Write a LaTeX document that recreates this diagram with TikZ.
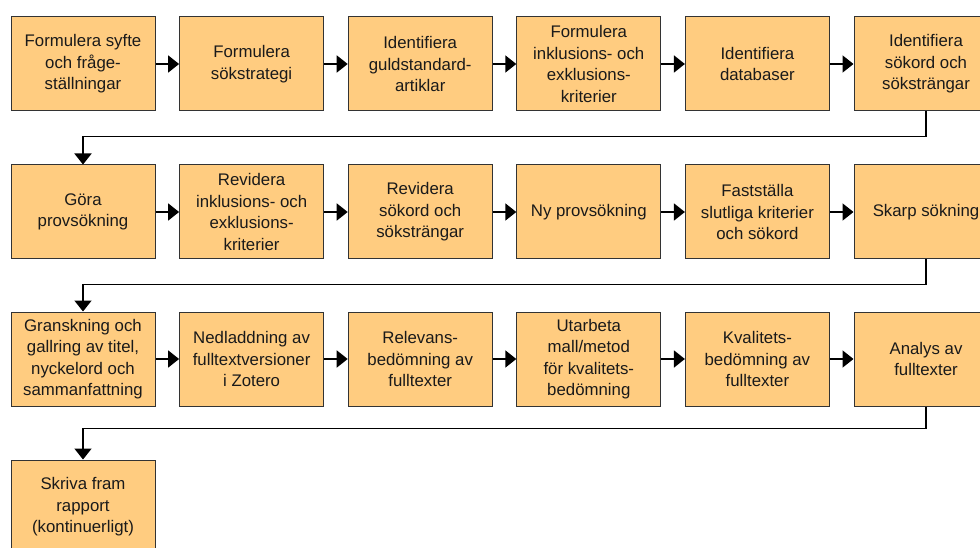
\documentclass[tikz,border=0pt]{standalone}
\usepackage{fontspec}
\setmainfont{Liberation Sans}
\usetikzlibrary{positioning,arrows.meta}

\definecolor{boxfill}{HTML}{FFCC80}
\definecolor{boxline}{HTML}{333333}
\definecolor{boxtext}{HTML}{1A1A1A}

\tikzset{
  stepbox/.style={draw=boxline, line width=1pt, fill=boxfill,
    minimum width=144pt, minimum height=94pt, inner sep=2pt,
    align=center, text=boxtext,
    font=\fontsize{16.8}{21.5}\selectfont},
  flow/.style={draw=black, line width=1.8pt,
    -{Triangle[length=11pt,width=17pt]}},
  turn/.style={draw=black, line width=1.8pt,
    -{Triangle[length=11pt,width=17pt]}}
}

\begin{document}
\begin{tikzpicture}[x=1pt,y=-1pt,node distance=23.6pt]
  \clip (0,0) rectangle (980,548);

  % rad 1
  \node[stepbox] (syfte) at (83,64) {Formulera syfte\\och fråge-\\ställningar};
  \node[stepbox, right=of syfte] (strategi) {Formulera\\sökstrategi};
  \node[stepbox, right=of strategi] (guld) {Identifiera\\guldstandard-\\artiklar};
  \node[stepbox, right=of guld] (inkl) {Formulera\\inklusions- och\\exklusions-\\kriterier};
  \node[stepbox, right=of inkl] (databas) {Identifiera\\databaser};
  \node[stepbox, right=of databas] (sokord) {Identifiera\\sökord och\\söksträngar};

  % rad 2
  \node[stepbox] (prov) at (83,212) {Göra\\provsökning};
  \node[stepbox, right=of prov] (revinkl) {Revidera\\inklusions- och\\exklusions-\\kriterier};
  \node[stepbox, right=of revinkl] (revsok) {Revidera\\sökord och\\söksträngar};
  \node[stepbox, right=of revsok] (nyprov) {Ny provsökning};
  \node[stepbox, right=of nyprov] (faststall) {Fastställa\\slutliga kriterier\\och sökord};
  \node[stepbox, right=of faststall] (skarp) {Skarp sökning};

  % rad 3
  \node[stepbox] (gransk) at (83,359) {Granskning och\\gallring av titel,\\nyckelord och\\sammanfattning};
  \node[stepbox, right=of gransk] (nedladd) {Nedladdning av\\fulltextversioner\\i Zotero};
  \node[stepbox, right=of nedladd] (relevans) {Relevans-\\bedömning av\\fulltexter};
  \node[stepbox, right=of relevans] (mall) {Utarbeta\\mall/metod\\för kvalitets-\\bedömning};
  \node[stepbox, right=of mall] (kvalitet) {Kvalitets-\\bedömning av\\fulltexter};
  \node[stepbox, right=of kvalitet] (analys) {Analys av\\fulltexter};

  % rad 4
  \node[stepbox] (rapport) at (83,507) {Skriva fram\\rapport\\(kontinuerligt)};

  % pilar inom raderna
  \foreach \a/\b in {syfte/strategi, strategi/guld, guld/inkl, inkl/databas, databas/sokord,
                     prov/revinkl, revinkl/revsok, revsok/nyprov, nyprov/faststall, faststall/skarp,
                     gransk/nedladd, nedladd/relevans, relevans/mall, mall/kvalitet, kvalitet/analys}
    \draw[flow] (\a.east) -- (\b.west);

  % pilar mellan raderna
  \draw[turn] (sokord.south) -- ++(0,25) -| (prov.north);
  \draw[turn] (skarp.south) -- ++(0,25) -| (gransk.north);
  \draw[turn] (analys.south) -- ++(0,22) -| (rapport.north);
\end{tikzpicture}
\end{document}
